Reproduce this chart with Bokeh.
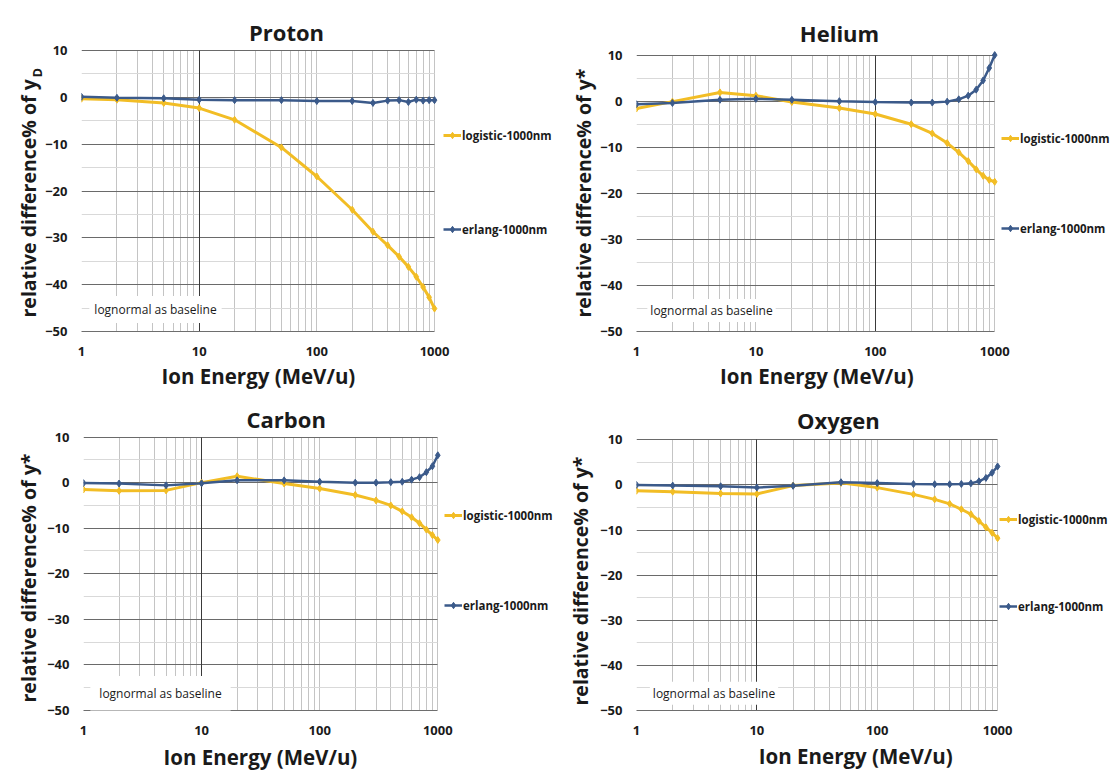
import math
from bokeh.plotting import figure
from bokeh.models import (Range1d, FixedTicker, NumeralTickFormatter, Label, Legend,
                          LegendItem, Title, Grid)
from bokeh.layouts import row, column
from bokeh.embed import file_html
from bokeh.resources import INLINE

# ---------------- data ----------------
energy = [1, 2, 5, 10, 20, 50, 100, 200, 300, 400, 500, 600, 700, 800, 900, 1000]

proton_logistic = [-0.3, -0.5, -1.2, -2.3, -4.8, -10.7, -16.9, -24.0, -28.7, -31.6, -34.0, -36.2, -38.3, -40.5, -42.7, -45.1]
proton_erlang = [0.1, -0.1, -0.2, -0.5, -0.6, -0.6, -0.8, -0.8, -1.2, -0.7, -0.6, -1.0, -0.5, -0.7, -0.6, -0.6]

helium_logistic = [-1.6, -0.1, 1.9, 1.2, -0.2, -1.5, -2.8, -5.0, -7.0, -9.1, -11.1, -13.0, -14.8, -16.2, -17.1, -17.5]
helium_erlang = [-0.65, -0.4, 0.3, 0.5, 0.3, 0.0, -0.2, -0.3, -0.3, -0.1, 0.4, 1.2, 2.5, 4.5, 7.2, 10.0]

carbon_logistic = [-1.5, -1.8, -1.7, 0.0, 1.4, -0.2, -1.3, -2.7, -3.9, -5.0, -6.3, -7.6, -8.9, -10.3, -11.5, -12.6]
carbon_erlang = [-0.1, -0.2, -0.6, -0.15, 0.5, 0.5, 0.2, 0.0, 0.0, 0.1, 0.2, 0.65, 1.2, 2.3, 3.6, 6.0]

oxygen_logistic = [-1.3, -1.5, -1.9, -2.0, -0.15, 0.45, -0.6, -2.1, -3.2, -4.2, -5.4, -6.5, -8.0, -9.4, -10.6, -11.8]
oxygen_erlang = [0.0, -0.15, -0.3, -0.6, -0.2, 0.6, 0.4, 0.2, 0.15, 0.15, 0.2, 0.35, 0.8, 1.55, 2.7, 4.1]

x_lim = (1, 1000)
y_lim = (-50, 10)
x_major = [1, 10, 100, 1000]
x_minor = [2, 3, 4, 5, 6, 7, 8, 9, 20, 30, 40, 50, 60, 70, 80, 90, 200, 300, 400, 500, 600, 700, 800, 900]
y_major = [-50, -40, -30, -20, -10, 0, 10]
y_minor = [-45, -35, -25, -15, -5, 5]

series_names = ["logistic-1000nm", "erlang-1000nm"]
baseline_note = "lognormal as baseline"
x_title = "Ion Energy (MeV/u)"

FONT = "Open Sans"
GOLD = "#F2BD25"
BLUE = "#3B5A8A"
TXT = "#1A1A1A"
GRID_V = "#C4C4C4"
GRID_MAJ = "#6A6A6A"
GRID_MIN = "#D9D9D9"
CROSS = "#3A3A3A"


def mk_title(text, size, align_off, standoff, valign):
    t = Title(text=text, align="left", offset=align_off, vertical_align=valign,
              text_font=FONT, text_font_style="bold", text_font_size=size, text_color=TXT)
    try:
        t.standoff = standoff
    except Exception:
        t.standoff = max(0, standoff)
    return t


def make_panel(title, ylab, sub, logi, erl, cfg):
    W, H = cfg["size"]
    fl, fr, ft, fb = cfg["frame"]          # where the 1..1000 / -50..10 box sits in the tile
    fl_r = round(fl)
    mb_bottom = round(H - fb)
    fb_r = H - mb_bottom
    # the drawing frame extends to the right and top edges of the tile (room for title/legend)
    ppd = (fr - fl) / 3.0                  # pixels per decade
    ppu = (fb - ft) / 60.0                 # pixels per y unit
    x_max = 10 ** ((W - fl_r) / ppd)
    y_max = y_lim[0] + fb_r / ppu

    p = figure(width=W, height=H, x_axis_type="log",
               x_range=Range1d(x_lim[0], x_max), y_range=Range1d(y_lim[0], y_max),
               output_backend="svg", toolbar_location=None,
               min_border_left=fl_r, min_border_right=0,
               min_border_top=0, min_border_bottom=mb_bottom)
    p.outline_line_color = None
    p.background_fill_color = "white"
    p.border_fill_color = "white"

    p.xaxis.ticker = FixedTicker(ticks=x_major, minor_ticks=x_minor)
    p.xaxis.formatter = NumeralTickFormatter(format="0")
    p.yaxis.ticker = FixedTicker(ticks=y_major, minor_ticks=y_minor)
    p.xaxis.bounds = x_lim
    p.yaxis.bounds = y_lim

    for ax in (p.xaxis[0], p.yaxis[0]):
        ax.major_tick_line_color = None
        ax.minor_tick_line_color = None
        ax.major_tick_out = 0
        ax.major_tick_in = 0
        ax.minor_tick_out = 0
        ax.minor_tick_in = 0
        ax.major_label_text_font = FONT
        ax.major_label_text_font_style = "bold"
        ax.major_label_text_font_size = "13px"
        ax.major_label_text_color = TXT
    p.xaxis.axis_line_color = "#6E6E6E"
    p.yaxis.axis_line_color = None
    p.xaxis.major_label_standoff = 15
    p.yaxis.major_label_standoff = 14

    p.xgrid.grid_line_color = GRID_V
    p.xgrid.minor_grid_line_color = GRID_V
    p.ygrid.grid_line_color = GRID_MAJ
    p.ygrid.minor_grid_line_color = GRID_MIN
    try:
        p.xgrid.cross_bounds = y_lim
        p.ygrid.cross_bounds = x_lim
        cross = Grid(dimension=0, ticker=FixedTicker(ticks=[cfg["cross"]]),
                     grid_line_color=CROSS, grid_line_width=1)
        cross.cross_bounds = y_lim
        p.add_layout(cross)
    except AttributeError:
        # fallback: grid lines drawn explicitly within the 1..1000 / -50..10 box
        p.xgrid.visible = False
        p.ygrid.visible = False
        xs_all = x_major + x_minor
        p.multi_line([[v, v] for v in xs_all], [list(y_lim)] * len(xs_all),
                     line_color=GRID_V, level="underlay")
        p.multi_line([list(x_lim)] * len(y_minor), [[v, v] for v in y_minor],
                     line_color=GRID_MIN, level="underlay")
        p.multi_line([list(x_lim)] * len(y_major), [[v, v] for v in y_major],
                     line_color=GRID_MAJ, level="underlay")
        p.line([cfg["cross"]] * 2, list(y_lim), line_color=CROSS, level="underlay")

    rl = p.line(energy, logi, line_color=GOLD, line_width=3)
    sl = p.scatter(energy, logi, marker="diamond", size=7, color=GOLD)
    re = p.line(energy, erl, line_color=BLUE, line_width=2.5)
    se = p.scatter(energy, erl, marker="diamond", size=7, color=BLUE)

    def sx(x):
        return x - fl_r

    def sy(y):
        return fb_r - y

    # legend to the right of the 1..1000 box
    gx, c1, c2 = cfg["legend"]
    h = 16
    leg = Legend(items=[LegendItem(label=series_names[0], renderers=[rl, sl]),
                        LegendItem(label=series_names[1], renderers=[re, se])],
                 location=(sx(gx), sy(c2) - h / 2), glyph_width=18, glyph_height=h,
                 label_height=h, label_standoff=1, padding=0, margin=0,
                 spacing=round(c2 - c1 - h),
                 border_line_color=None, background_fill_alpha=0,
                 label_text_font=FONT, label_text_font_style="bold",
                 label_text_font_size="11.5px", label_text_color=TXT)
    p.add_layout(leg)

    # chart title
    tx, ty = cfg["title"]
    p.add_layout(Label(x=sx(tx), y=sy(ty), x_units="screen", y_units="screen", text=title,
                       text_align="center", text_baseline="middle", text_font=FONT,
                       text_font_style="bold", text_font_size="22px", text_color=TXT))

    # x axis title
    xo, xs = cfg["xlab"]
    p.add_layout(mk_title(x_title, "20.5px", xo, xs, "top"), "below")
    # y axis title (and subscript)
    if sub:
        so, ss = cfg["sub"]
        p.add_layout(mk_title(sub, "13px", so, ss, "bottom"), "left")
    yo, ys = cfg["ylab"]
    p.add_layout(mk_title(ylab, "19.5px", yo, ys, "bottom"), "left")

    # baseline note
    bx, by = cfg["base"]
    p.add_layout(Label(x=sx(bx), y=sy(by), x_units="screen", y_units="screen", text=baseline_note,
                       text_align="center", text_baseline="middle", text_font=FONT,
                       text_font_size="12px", text_color=TXT,
                       background_fill_color="white", padding=cfg["pad"]))
    return p


cfg_p = dict(size=(560, 395), frame=(81, 434, 50, 331), cross=10,
             title=(286, 31.7), xlab=(80, 7), ylab=(14, -27), sub=(254, -6),
             legend=(443, 135, 229), base=(155, 309), pad=5)
cfg_he = dict(size=(550, 395), frame=(76.4, 434.6, 54.3, 330.7), cross=100,
              title=(279, 32.3), xlab=(83.4, 7), ylab=(14, 1.6),
              legend=(441, 138, 228), base=(151, 310), pad=3)
cfg_c = dict(size=(560, 383), frame=(83.2, 437.5, 41.7, 316), cross=10,
             title=(285.7, 24.2), xlab=(80, 10), ylab=(8, 4.6),
             legend=(444, 120.7, 211), base=(160, 299), pad=9)
cfg_o = dict(size=(550, 383), frame=(76.4, 437.5, 44.3, 315), cross=10,
             title=(277.9, 24.5), xlab=(122.3, 8), ylab=(5, 7.6),
             legend=(439, 124, 211), base=(153.5, 297.7), pad=3)

p1 = make_panel("Proton", "relative difference% of y", "D", proton_logistic, proton_erlang, cfg_p)
p2 = make_panel("Helium", "relative difference% of y*", None, helium_logistic, helium_erlang, cfg_he)
p3 = make_panel("Carbon", "relative difference% of y*", None, carbon_logistic, carbon_erlang, cfg_c)
p4 = make_panel("Oxygen", "relative difference% of y*", None, oxygen_logistic, oxygen_erlang, cfg_o)

layout = column(row(p1, p2, spacing=0), row(p3, p4, spacing=0), spacing=0)

with open("out.html", "w") as f:
    f.write(file_html(layout, INLINE))
